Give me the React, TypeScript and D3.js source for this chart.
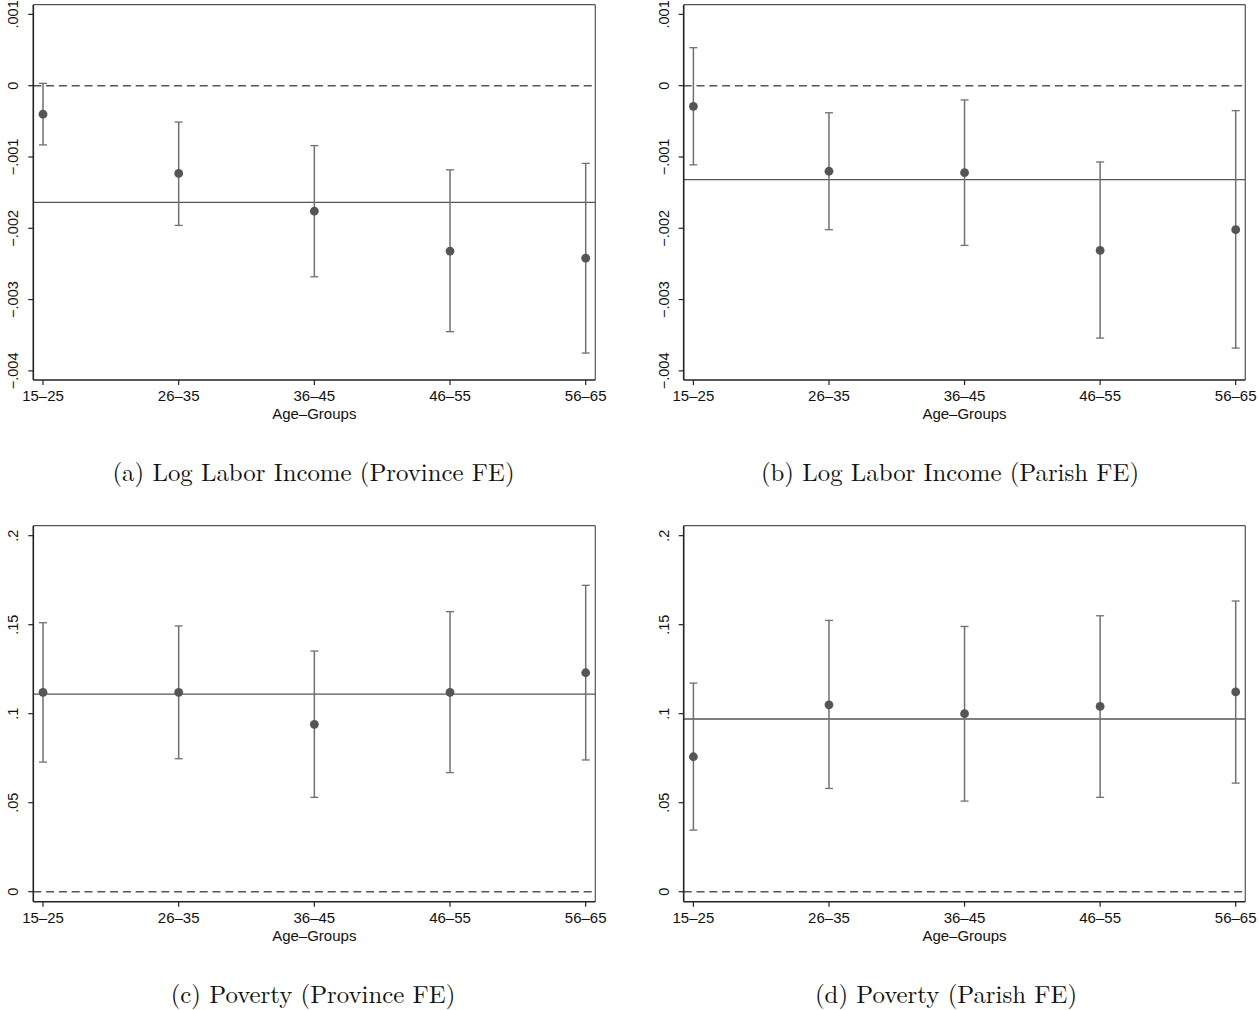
import React from "react";
import * as d3 from "d3";

const ageGroups = ["15–25", "26–35", "36–45", "46–55", "56–65"];

// Panel (a) Log Labor Income (Province FE)
const incProvEst = [-0.0004, -0.00123, -0.00176, -0.00232, -0.00242];
const incProvLo = [-0.00083, -0.00196, -0.00268, -0.00345, -0.00375];
const incProvHi = [0.000033, -0.00051, -0.00084, -0.00118, -0.00109];
const incProvMean = -0.001636;

// Panel (b) Log Labor Income (Parish FE)
const incParEst = [-0.00029, -0.0012, -0.00122, -0.00231, -0.00202];
const incParLo = [-0.00111, -0.00202, -0.00224, -0.00354, -0.00368];
const incParHi = [0.000533, -0.00038, -0.0002, -0.00107, -0.00035];
const incParMean = -0.001318;

// Panel (c) Poverty (Province FE)
const povProvEst = [0.112, 0.112, 0.094, 0.112, 0.123];
const povProvLo = [0.0728, 0.0747, 0.053, 0.0669, 0.074];
const povProvHi = [0.1511, 0.1493, 0.1352, 0.1573, 0.1721];
const povProvMean = 0.111;

// Panel (d) Poverty (Parish FE)
const povParEst = [0.0758, 0.105, 0.1, 0.1041, 0.1122];
const povParLo = [0.0346, 0.058, 0.0509, 0.053, 0.061];
const povParHi = [0.1172, 0.1524, 0.149, 0.155, 0.1633];
const povParMean = 0.097;

const incomeTicks = [0.001, 0, -0.001, -0.002, -0.003, -0.004];
const povertyTicks = [0.2, 0.15, 0.1, 0.05, 0];

const captions = [
  "(a) Log Labor Income (Province FE)",
  "(b) Log Labor Income (Parish FE)",
  "(c) Poverty (Province FE)",
  "(d) Poverty (Parish FE)",
];

const xTitle = "Age–Groups";

function fmtTick(v: number): string {
  if (v === 0) return "0";
  const s = Math.abs(v).toString().replace(/^0\./, ".");
  return (v < 0 ? "−" : "") + s;
}

type PanelProps = {
  left: number;
  right: number;
  top: number;
  bottom: number;
  yDomain: [number, number];
  ticks: number[];
  est: number[];
  lo: number[];
  hi: number[];
  mean: number;
  caption: string;
  captionX: number;
  captionY: number;
};

const FONT = "'Liberation Sans', Arial, Helvetica, sans-serif";

function Panel(p: PanelProps) {
  const x = d3.scaleLinear().domain([1, 5]).range([p.left + 9.7, p.right - 9.6]);
  const y = d3.scaleLinear().domain(p.yDomain).range([p.bottom, p.top]);
  const cx = (p.left + p.right) / 2;
  return (
    <g>
      {/* plot frame */}
      <line x1={p.left} x2={p.right} y1={p.top} y2={p.top} stroke="#555" strokeWidth={1.2} />
      <line x1={p.right} x2={p.right} y1={p.top} y2={p.bottom} stroke="#555" strokeWidth={1.2} />
      {/* zero reference line */}
      <line
        x1={p.left}
        x2={p.right}
        y1={y(0)}
        y2={y(0)}
        stroke="#555"
        strokeWidth={1.5}
        strokeDasharray="8,4.8"
      />
      {/* mean line */}
      <line x1={p.left} x2={p.right} y1={y(p.mean)} y2={y(p.mean)} stroke="#555" strokeWidth={1.4} />
      {/* error bars */}
      {p.est.map((v, i) => {
        const xi = x(i + 1);
        return (
          <g key={i}>
            <line x1={xi} x2={xi} y1={y(p.lo[i])} y2={y(p.hi[i])} stroke="#707070" strokeWidth={1.5} />
            <line x1={xi - 4} x2={xi + 4} y1={y(p.lo[i])} y2={y(p.lo[i])} stroke="#707070" strokeWidth={1.3} />
            <line x1={xi - 4} x2={xi + 4} y1={y(p.hi[i])} y2={y(p.hi[i])} stroke="#707070" strokeWidth={1.3} />
            <circle cx={xi} cy={y(v)} r={4.4} fill="#555" />
          </g>
        );
      })}
      {/* axes */}
      <line x1={p.left} x2={p.left} y1={p.top} y2={p.bottom} stroke="#222" strokeWidth={1.6} />
      <line x1={p.left} x2={p.right} y1={p.bottom} y2={p.bottom} stroke="#222" strokeWidth={1.6} />
      {p.ticks.map((t) => (
        <g key={t}>
          <line x1={p.left - 5} x2={p.left} y1={y(t)} y2={y(t)} stroke="#222" strokeWidth={1.2} />
          <text
            transform={`translate(${p.left - 15},${y(t)}) rotate(-90)`}
            textAnchor="middle"
            fontFamily={FONT}
            fontSize={14.5}
            fill="#111"
          >
            {fmtTick(t)}
          </text>
        </g>
      ))}
      {ageGroups.map((g, i) => (
        <g key={g}>
          <line x1={x(i + 1)} x2={x(i + 1)} y1={p.bottom} y2={p.bottom + 5} stroke="#222" strokeWidth={1.2} />
          <text x={x(i + 1)} y={p.bottom + 21} textAnchor="middle" fontFamily={FONT} fontSize={15} fill="#111">
            {g}
          </text>
        </g>
      ))}
      <text x={cx} y={p.bottom + 39} textAnchor="middle" fontFamily={FONT} fontSize={15} fill="#111">
        {xTitle}
      </text>
      <text
        x={p.captionX}
        y={p.captionY}
        textAnchor="middle"
        fontFamily="'Latin Modern Roman', 'DejaVu Serif', 'Liberation Serif', serif"
        fontSize={24.8}
        fill="#111"
      >
        {p.caption}
      </text>
    </g>
  );
}

export default function App() {
  const incDomain: [number, number] = [-0.004128, 0.001136];
  const povDomain: [number, number] = [-0.00562, 0.2056];
  return (
    <svg
      width={1259}
      height={1010}
      style={{ position: "absolute", left: 0, top: 0, background: "#fff" }}
    >
      <rect width={1259} height={1010} fill="#fff" />
      <Panel
        left={33.3}
        right={595.3}
        top={4.7}
        bottom={380}
        yDomain={incDomain}
        ticks={incomeTicks}
        est={incProvEst}
        lo={incProvLo}
        hi={incProvHi}
        mean={incProvMean}
        caption={captions[0]}
        captionX={313.5}
        captionY={481}
      />
      <Panel
        left={683.7}
        right={1245.3}
        top={4.7}
        bottom={380}
        yDomain={incDomain}
        ticks={incomeTicks}
        est={incParEst}
        lo={incParLo}
        hi={incParHi}
        mean={incParMean}
        caption={captions[1]}
        captionX={950}
        captionY={481}
      />
      <Panel
        left={33.3}
        right={595.3}
        top={525.7}
        bottom={901.7}
        yDomain={povDomain}
        ticks={povertyTicks}
        est={povProvEst}
        lo={povProvLo}
        hi={povProvHi}
        mean={povProvMean}
        caption={captions[2]}
        captionX={313}
        captionY={1003}
      />
      <Panel
        left={683.7}
        right={1245.3}
        top={525.7}
        bottom={901.7}
        yDomain={povDomain}
        ticks={povertyTicks}
        est={povParEst}
        lo={povParLo}
        hi={povParHi}
        mean={povParMean}
        caption={captions[3]}
        captionX={946}
        captionY={1003}
      />
    </svg>
  );
}
